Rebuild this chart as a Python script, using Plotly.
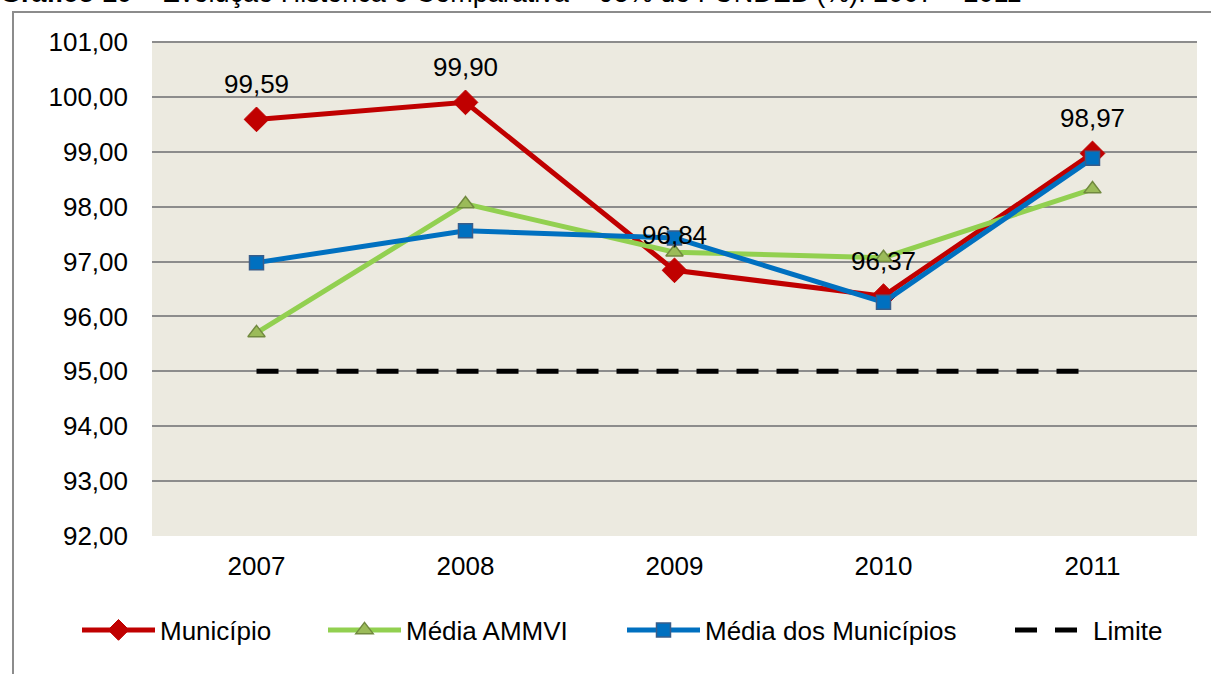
import plotly.graph_objects as go

anos = ["2007", "2008", "2009", "2010", "2011"]
municipio = [99.59, 99.90, 96.84, 96.37, 98.97]
media_ammvi = [95.70, 98.05, 97.17, 97.07, 98.32]
media_municipios = [96.98, 97.56, 97.43, 96.26, 98.88]
limite = [95.00, 95.00, 95.00, 95.00, 95.00]
y_ticks = [92, 93, 94, 95, 96, 97, 98, 99, 100, 101]

FONT = "Liberation Sans, Arial, sans-serif"
FS = 26

L, R, T, B = 152, 14, 42, 138
W, H = 1211, 674
pw, ph = W - L - R, H - T - B


def px_x(p):
    return (p - L) / pw


def px_y(p):
    return 1 - (p - T) / ph


fig = go.Figure()

fig.add_trace(go.Scatter(
    x=anos, y=limite, name="Limite", mode="lines",
    line=dict(color="black", width=5, dash="22px,18px"),
    legend="legend4",
))
fig.add_trace(go.Scatter(
    x=anos, y=municipio, name="Município", mode="lines+markers",
    line=dict(color="#C00000", width=5),
    marker=dict(symbol="diamond", size=19, color="#C00000", line=dict(color="#C00000", width=1)),
    legend="legend",
))
fig.add_trace(go.Scatter(
    x=anos, y=media_ammvi, name="Média AMMVI", mode="lines+markers",
    line=dict(color="#92D050", width=5),
    marker=dict(symbol="triangle-up", size=15, color="#9BBB59", line=dict(color="#71893F", width=1.5)),
    legend="legend2",
))
fig.add_trace(go.Scatter(
    x=anos, y=media_municipios, name="Média dos Municípios", mode="lines+markers",
    line=dict(color="#0070C0", width=5),
    marker=dict(symbol="square", size=14, color="#0070C0", line=dict(color="#385D8A", width=1.5)),
    legend="legend3",
))

# data labels: category axis positions are the category serial numbers
label_annots = [
    dict(x=i, y=v, xref="x", yref="y", text=f"{v:.2f}".replace(".", ","),
         showarrow=False, yshift=35, font=dict(size=FS, family=FONT, color="black"))
    for i, v in enumerate(municipio)
]


def leg(px_left):
    return dict(
        orientation="h", x=px_x(px_left), xanchor="left", y=px_y(630), yanchor="middle",
        font=dict(size=FS, family=FONT, color="black"), itemwidth=73,
        bgcolor="rgba(0,0,0,0)", borderwidth=0,
    )


fig.update_layout(
    width=W, height=H,
    margin=dict(l=L, r=R, t=T, b=B),
    paper_bgcolor="white",
    plot_bgcolor="#ECEAE0",
    separators=",.",
    font=dict(family=FONT, size=FS, color="black"),
    showlegend=True,
    legend=leg(77),
    legend2=leg(323),
    legend3=leg(622),
    legend4=leg(1010),
    xaxis=dict(
        type="category", range=[-0.5, 4.5], showgrid=False, zeroline=False,
        showline=False, ticks="", tickfont=dict(size=FS, family=FONT),
        ticklabelstandoff=12,
    ),
    yaxis=dict(
        range=[92, 101], tickvals=y_ticks, tickformat=".2f",
        showgrid=True, gridcolor="#8C8C8C", gridwidth=2,
        zeroline=False, showline=False, ticks="",
        tickfont=dict(size=FS, family=FONT), ticklabelstandoff=23,
    ),
    shapes=[
        dict(type="line", xref="paper", yref="paper",
             x0=px_x(13), x1=px_x(13), y0=px_y(12), y1=px_y(700),
             line=dict(color="#8C8C8C", width=2)),
        dict(type="line", xref="paper", yref="paper",
             x0=px_x(12), x1=px_x(1230), y0=px_y(12), y1=px_y(12),
             line=dict(color="#8C8C8C", width=2)),
        dict(type="line", xref="paper", yref="paper",
             x0=0, x1=1, y0=1, y1=1,
             line=dict(color="#8C8C8C", width=2)),
    ],
    annotations=label_annots + [
        dict(xref="paper", yref="paper", x=px_x(-2), y=px_y(-7),
             xanchor="left", yanchor="middle", showarrow=False,
             text="<b>Gráfico 10</b> – Evolução Histórica e Comparativa – 95% do FUNDEB (%): 2007 – 2011",
             font=dict(size=27, family=FONT, color="black")),
    ],
)

fig.write_html("out.html", config={"displayModeBar": False},
               post_script="document.body.style.margin='0';")
